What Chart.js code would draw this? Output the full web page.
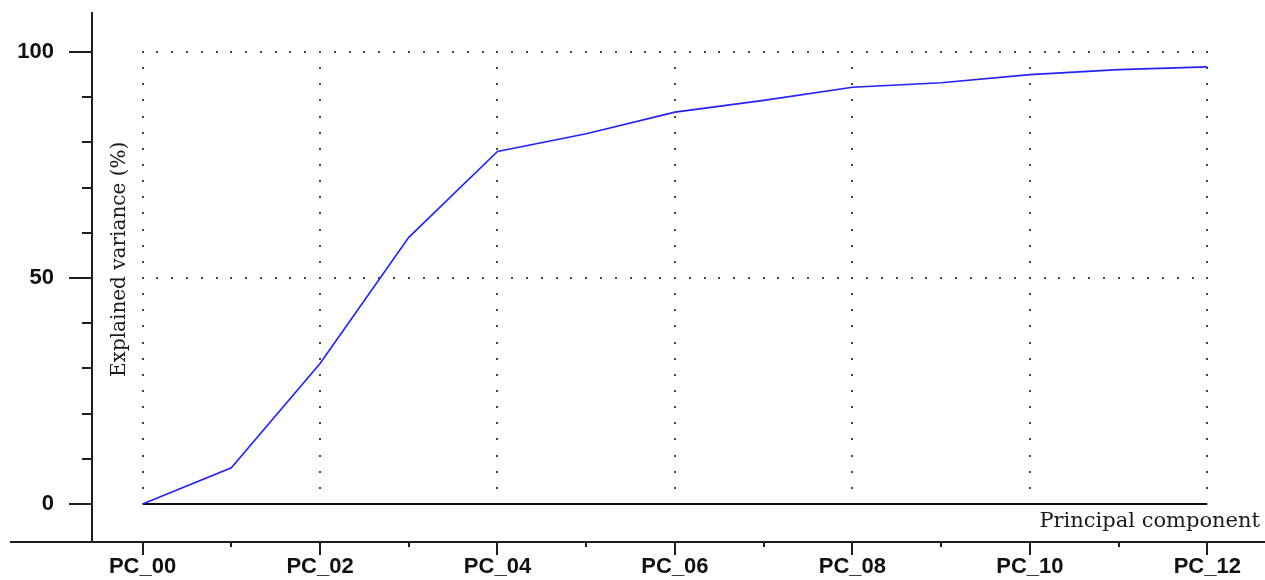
<!DOCTYPE html>
<html>
<head>
<meta charset="utf-8">
<title>Explained variance</title>
<script src="https://cdn.jsdelivr.net/npm/chart.js@4.4.0/dist/chart.umd.min.js"></script>
<style>
    body { margin: 0; background: #fff; }
    canvas { display: block; }
</style>
</head>
<body>
<canvas id="myChart" width="1265" height="580"></canvas>
<script>
// Principal components on the x axis
var components = ["PC_00", "PC_01", "PC_02", "PC_03", "PC_04", "PC_05", "PC_06",
                  "PC_07", "PC_08", "PC_09", "PC_10", "PC_11", "PC_12"];
// Cumulative explained variance (%)
var variance = [0, 8.0, 31.1, 59.0, 78.0, 81.9, 86.7, 89.3, 92.2, 93.2, 95.0, 96.1, 96.7];
// Labelled y ticks and the small unlabelled ones
var yTicks = [0, 50, 100];
var yMinorTicks = [10, 20, 30, 40, 60, 70, 80, 90];
// dotted grid rows
var gridRows = [50, 100];

var axisColor = "#1e1e1e";

// draws the dotted grid, zero line, axes, tick marks and titles
var axisDecor = {
    id: "axisDecor",
    beforeDatasetsDraw: function(chart) {
        var ctx = chart.ctx;
        var xs = chart.scales.x, ys = chart.scales.y;
        var x0 = xs.getPixelForValue(0);
        var x1 = xs.getPixelForValue(components.length - 1);
        var yTop = ys.getPixelForValue(100);
        var yZero = ys.getPixelForValue(0);

        ctx.save();
        ctx.fillStyle = "#474747";
        // horizontal dotted rows, 6 dots per category
        gridRows.forEach(function(v) {
            var py = Math.round(ys.getPixelForValue(v));
            var n = (components.length - 1) * 6;
            for (var i = 0; i <= n; i++) {
                ctx.fillRect(Math.round(x0 + (x1 - x0) * i / n) - 1, py - 1, 2, 2);
            }
        });
        // vertical dotted lines every second component
        for (var c = 0; c < components.length; c += 2) {
            var px = Math.round(xs.getPixelForValue(c));
            var m = 28;
            for (var j = 0; j < m; j++) {
                ctx.fillRect(px - 1, Math.round(yTop + (yZero - yTop) * j / m) - 1, 2, 2);
            }
        }
        // solid zero line
        ctx.strokeStyle = "#111";
        ctx.lineWidth = 2;
        ctx.beginPath();
        ctx.moveTo(x0, yZero);
        ctx.lineTo(x1, yZero);
        ctx.stroke();
        ctx.restore();
    },
    afterDraw: function(chart) {
        var ctx = chart.ctx;
        var area = chart.chartArea;
        var xs = chart.scales.x, ys = chart.scales.y;

        ctx.save();
        ctx.strokeStyle = axisColor;
        ctx.lineWidth = 2;
        ctx.beginPath();
        // y axis
        ctx.moveTo(area.left, area.top);
        ctx.lineTo(area.left, area.bottom);
        // x axis, runs past the y axis to the left
        ctx.moveTo(10, area.bottom);
        ctx.lineTo(chart.width, area.bottom);
        // y tick marks
        yTicks.forEach(function(v) {
            var py = Math.round(ys.getPixelForValue(v));
            ctx.moveTo(area.left - 23, py);
            ctx.lineTo(area.left, py);
        });
        yMinorTicks.forEach(function(v) {
            var py = Math.round(ys.getPixelForValue(v));
            ctx.moveTo(area.left - 10, py);
            ctx.lineTo(area.left, py);
        });
        // x tick marks
        for (var c = 0; c < components.length; c++) {
            var px = Math.round(xs.getPixelForValue(c));
            ctx.moveTo(px, area.bottom);
            ctx.lineTo(px, area.bottom + (c % 2 == 0 ? 13 : 5));
        }
        ctx.stroke();

        // axis titles
        ctx.fillStyle = "#1a1a1a";
        ctx.font = '21px "DejaVu Serif"';
        ctx.textAlign = "right";
        ctx.textBaseline = "alphabetic";
        ctx.fillText("Principal component", 1260, 527);

        ctx.font = '20px "DejaVu Serif"';
        ctx.translate(125, 377);
        ctx.rotate(-Math.PI / 2);
        ctx.textAlign = "left";
        ctx.fillText("Explained variance (%)", 0, 0);
        ctx.restore();
    }
};

var tickFont = { family: "Liberation Sans", size: 22, weight: "bold" };

new Chart("myChart", {
    type: "line",
    data: {
        datasets: [{
            data: variance.map(function(v, i) { return { x: i, y: v }; }),
            borderColor: "#2222ff",
            borderWidth: 1.6,
            pointRadius: 0,
            tension: 0,
            fill: false
        }]
    },
    options: {
        responsive: false,
        animation: false,
        layout: { padding: { top: 12, right: 0, bottom: 0, left: 0 } },
        plugins: {
            legend: { display: false },
            tooltip: { enabled: false }
        },
        scales: {
            x: {
                type: "linear",
                min: -0.57,
                max: 12.65,
                grid: { display: false, drawTicks: false },
                border: { display: false },
                ticks: {
                    padding: 12,
                    color: "#111",
                    font: tickFont,
                    maxRotation: 0,
                    autoSkip: false,
                    callback: function(value) { return components[value]; }
                },
                afterBuildTicks: function(scale) {
                    var t = [];
                    for (var c = 0; c < components.length; c += 2) t.push({ value: c });
                    scale.ticks = t;
                },
                afterFit: function(scale) {
                    scale.height = 38;
                    scale.paddingLeft = 0;
                    scale.paddingRight = 0;
                }
            },
            y: {
                min: -8.41,
                max: 108.85,
                grid: { display: false, drawTicks: false },
                border: { display: false },
                ticks: {
                    padding: 38,
                    color: "#111",
                    font: tickFont
                },
                afterBuildTicks: function(scale) {
                    scale.ticks = yTicks.map(function(v) { return { value: v }; });
                },
                afterFit: function(scale) {
                    scale.width = 92;
                    scale.paddingTop = 0;
                    scale.paddingBottom = 0;
                }
            }
        }
    },
    plugins: [axisDecor]
});
</script>
</body>
</html>
